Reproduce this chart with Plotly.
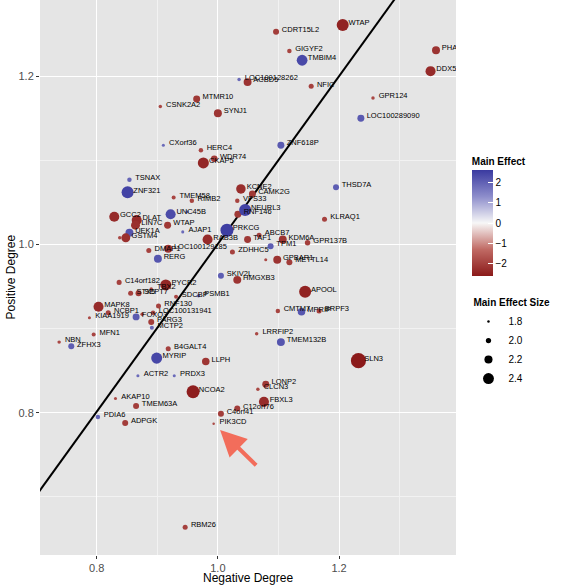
import plotly.graph_objects as go
import numpy as np

genes = ["CDRT15L2","GIGYF2","TMBIM4","LOC100128262","ACBD5","NFIC","MTMR10","CSNK2A2","SYNJ1","WTAP",
         "PHA","DDX5","GPR124","LOC100289090","CXorf36","TSNAX","ZNF321","TMEM58","GCC2","UNC45B",
         "DLAT","LIN7C","WTAP","AJAP1","UEK1A","GSTM4","","DMAP1","LOC100129185","RERG",
         "HERC4","WDR74","CKAP5","ZNF618P","KCNE2","CAMK2G","VPS33","RIMB2","RNF146","NEURL3","PRKCG",
         "RAB3B","ABCB7","TAF1","KDM6A","TPM1","GPR137B","KLRAQ1","ZDHHC5","GPBAR1","",
         "METTL14","THSD7A","C14orf182","PYCR2","STX5","SEPT7","TBX2","MAPK8","NCBP1","KIAA1919",
         "FOXO3","RNF130","","LOC100131941","PARG3","MCTP2","MFN1","NBN","ZFHX3","B4GALT4",
         "MYRIP","ACTR2","PRDX3","AKAP10","SKIV2L","HMGXB3","APOOL","PSMB1","CMTM7","MPRIP",
         "BRPF3","LRRFIP2","TMEM132B","LLPH","NCOA2","LONP2","CLCN3","FBXL3","SLN3","TMEM63A",
         "PDIA6","ADPGK","RBM26","C12orf76","C4orf41","PIK3CD","SDCBP",""]

neg_degree = [1.096,1.118,1.139,1.035,1.049,1.154,0.965,0.905,1.000,1.206,
              1.360,1.351,1.256,1.236,0.910,0.854,0.851,0.927,0.829,0.922,
              0.866,0.864,0.917,0.942,0.854,0.848,0.838,0.886,0.918,0.901,
              0.972,0.994,0.976,1.104,1.038,1.057,1.032,0.957,1.033,1.045,1.015,
              0.983,1.068,1.049,1.107,1.087,1.148,1.176,1.024,1.098,1.079,
              1.118,1.195,0.837,0.914,0.856,0.869,0.890,0.803,0.819,0.788,
              0.865,0.902,0.875,0.893,0.890,0.891,0.795,0.738,0.758,0.918,
              0.899,0.868,0.928,0.831,1.005,1.032,1.144,0.968,1.099,1.138,
              1.167,1.064,1.104,0.980,0.959,1.079,1.066,1.076,1.232,0.865,
              0.802,0.847,0.946,1.032,1.005,0.993,0.931,0.949]

pos_degree = [1.253,1.230,1.219,1.196,1.193,1.188,1.173,1.164,1.156,1.261,
              1.231,1.206,1.174,1.150,1.118,1.077,1.062,1.056,1.033,1.036,
              1.029,1.023,1.023,1.015,1.014,1.008,1.008,0.993,0.995,0.983,
              1.112,1.102,1.097,1.118,1.066,1.060,1.052,1.052,1.036,1.041,1.017,
              1.006,1.011,1.006,1.006,0.998,1.002,1.030,0.991,0.982,0.982,
              0.979,1.068,0.955,0.952,0.942,0.942,0.947,0.926,0.919,0.913,
              0.914,0.927,0.917,0.919,0.908,0.901,0.893,0.884,0.879,0.876,
              0.865,0.844,0.844,0.817,0.963,0.958,0.944,0.939,0.921,0.920,
              0.921,0.894,0.884,0.861,0.825,0.834,0.828,0.813,0.862,0.808,
              0.795,0.788,0.664,0.805,0.799,0.787,0.938,1.039]

main_effect = [-2.05,-1.94,2.39,1.87,-2.19,-1.98,-2.12,-1.87,-2.19,-2.48,
               -2.19,-2.34,-1.87,2.12,1.84,1.94,2.48,-1.91,-2.34,2.34,
               -2.34,-2.26,-2.12,1.84,2.19,-2.26,-1.87,-1.98,-2.19,2.19,
               -1.94,-2.09,-2.41,2.12,-2.30,-2.12,-1.94,-1.94,-2.12,2.48,2.55,
               -2.34,-1.98,-2.12,-2.19,2.05,-2.01,-1.98,-1.98,-2.19,-1.84,
               -2.05,2.05,-1.98,-2.41,-1.98,-2.05,-1.87,-2.34,-1.98,-1.84,
               2.12,-1.98,-1.87,-1.94,-2.05,1.91,-1.91,-1.87,2.05,-1.98,
               2.41,1.84,1.84,-1.84,2.05,-2.19,-2.48,1.87,-1.94,2.16,
               -1.98,-1.87,2.19,-2.16,-2.55,-2.12,-1.87,-2.34,-2.70,-2.05,
               1.94,-2.05,-1.98,-2.05,-2.05,-1.80,-1.91,1.84]

size_legend_values = [1.8, 2.0, 2.2, 2.4]
fit_slope = 0.997
fit_intercept = 0.0037
highlight_gene = "PIK3CD"

def diameter(v):
    return np.maximum(2.2, 2.5 + 14.0 * (np.abs(np.asarray(v, dtype=float)) - 1.8))

neg = np.array(neg_degree)
pos = np.array(pos_degree)
eff = np.array(main_effect)

colorscale = [[0.0, "#8B1A1A"], [0.25, "#C06A64"], [0.5, "#F7F7F7"],
              [0.75, "#8D8DCB"], [1.0, "#3A3AA0"]]

FONT = "Liberation Sans"
fig = go.Figure()

xl = np.array([0.70, 1.40])
fig.add_trace(go.Scatter(x=xl, y=fit_slope * xl + fit_intercept, mode="lines",
                         line=dict(color="black", width=2), showlegend=False,
                         hoverinfo="skip"))

fig.add_trace(go.Scatter(
    x=neg, y=pos, mode="markers", showlegend=False,
    marker=dict(size=diameter(eff), color=eff, colorscale=colorscale,
                cmin=-2.62, cmax=2.62, line=dict(width=0), opacity=1,
                colorbar=dict(
                    title=dict(text="<b>Main Effect</b>", font=dict(size=10, family=FONT, color="black"), side="top"),
                    tickvals=[-2, -1, 0, 1, 2], ticktext=["\u22122", "\u22121", "0", "1", "2"],
                    tickfont=dict(size=10, family=FONT, color="black"),
                    ticks="inside", tickcolor="white", ticklen=5, tickwidth=1,
                    outlinewidth=0, thickness=21, len=122, lenmode="pixels",
                    x=1.038, xanchor="left", y=0.5027, yanchor="bottom", xpad=0, ypad=0))))

fig.add_trace(go.Scatter(
    x=neg + 0.0095, y=pos + 0.002, mode="text", text=genes, textposition="middle right",
    textfont=dict(size=7.5, family=FONT, color="black"),
    showlegend=False, hoverinfo="skip", cliponaxis=True))

for i, v in enumerate(size_legend_values):
    fig.add_trace(go.Scatter(
        x=[None], y=[None], mode="markers", name=f"{v:.1f}",
        marker=dict(size=float(diameter([v])[0]), color="black"),
        showlegend=True,
        legendgrouptitle=dict(text="<b>Main Effect Size</b>") if i == 0 else None))

hi = genes.index(highlight_gene)
fig.add_annotation(x=neg[hi], y=pos[hi], ax=44, ay=43, showarrow=True, text="",
                   arrowhead=2, arrowsize=1.3, arrowwidth=4, arrowcolor="#F26D5B",
                   standoff=9)

fig.add_annotation(x=0.5, y=0, xref="paper", yref="paper", yshift=-23, showarrow=False,
                   text="Negative Degree", font=dict(size=12, family=FONT, color="black"),
                   xanchor="center", yanchor="middle")
fig.add_annotation(x=0, y=0.5, xref="paper", yref="paper", xshift=-30, showarrow=False,
                   text="Positive Degree", textangle=-90,
                   font=dict(size=12, family=FONT, color="black"),
                   xanchor="center", yanchor="middle")

axis_common = dict(showgrid=True, gridcolor="white", gridwidth=1.3, automargin=False,
                   zeroline=False, showline=False, ticks="outside",
                   ticklen=3, tickcolor="#333333",
                   tickfont=dict(size=11, family=FONT, color="#4D4D4D"))

fig.update_xaxes(range=[0.7064, 1.393], tickvals=[0.8, 1.0, 1.2], ticktext=["0.8", "1.0", "1.2"],
                 minor=dict(tickvals=[0.9, 1.1, 1.3], ticks="", showgrid=True,
                            gridcolor="#F2F2F2", gridwidth=0.6),
                 **axis_common)
fig.update_yaxes(range=[0.631, 1.2906], tickvals=[0.8, 1.0, 1.2], ticktext=["0.8", "1.0", "1.2"],
                 minor=dict(tickvals=[0.7, 0.9, 1.1], ticks="", showgrid=True,
                            gridcolor="#F2F2F2", gridwidth=0.6),
                 **axis_common)

fig.update_layout(
    width=565, height=585,
    margin=dict(l=40, r=109, t=0, b=30, autoexpand=False),
    plot_bgcolor="#E5E5E5", paper_bgcolor="white",
    legend=dict(x=1.03, xanchor="left", y=0.481, yanchor="top",
                font=dict(size=10, family=FONT, color="black"),
                grouptitlefont=dict(size=10, family=FONT, color="black"),
                tracegroupgap=0, itemsizing="trace", bgcolor="rgba(0,0,0,0)"),
)

fig.write_html("out.html", config={"displayModeBar": False},
               post_script="document.body.style.margin='0';document.body.style.overflow='hidden';")
